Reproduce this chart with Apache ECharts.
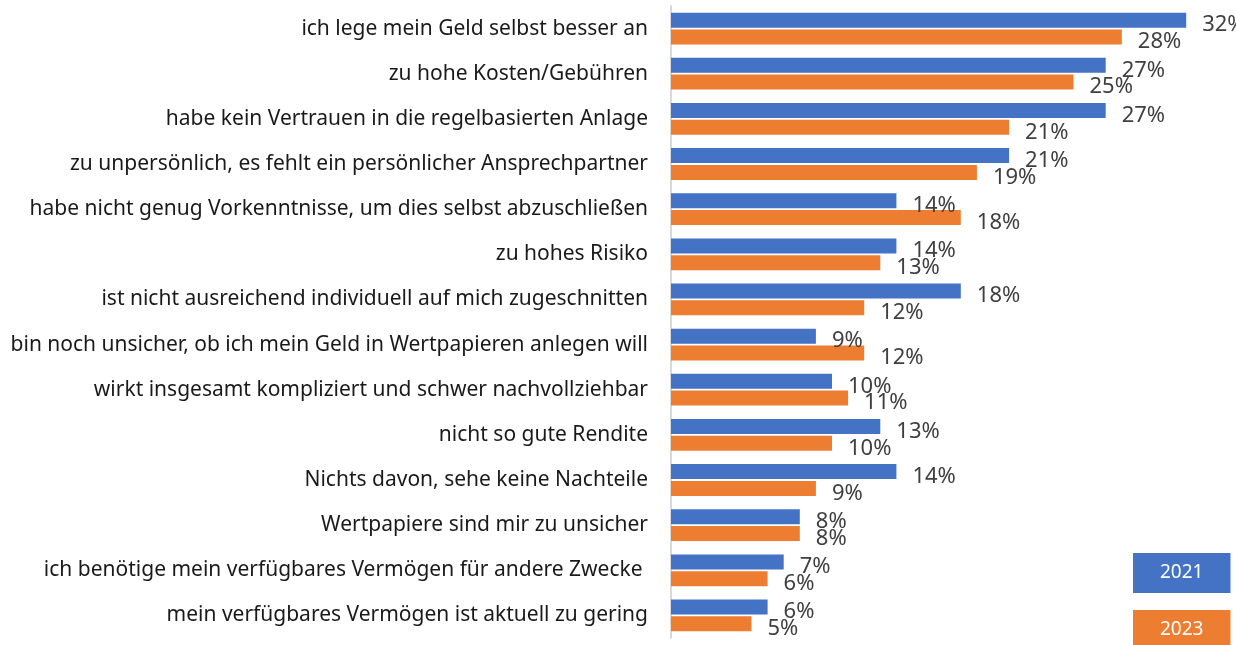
<!DOCTYPE html>
<html>
<meta charset="utf-8" />

<head>
  <script src="https://cdn.jsdelivr.net/npm/echarts@6.0.0/dist/echarts.min.js"></script>
  <style>
    html, body { margin: 0; padding: 0; background: #fff; }
    .chart {
      height: 645px;
      width: 1236px;
    }
  </style>
</head>

<body>
  <div class="chart" id="echarts-1"></div>
  <script>
    // categories, top to bottom
    const categories = [
      "ich lege mein Geld selbst besser an",
      "zu hohe Kosten/Gebühren",
      "habe kein Vertrauen in die regelbasierten Anlage",
      "zu unpersönlich, es fehlt ein persönlicher Ansprechpartner",
      "habe nicht genug Vorkenntnisse, um dies selbst abzuschließen",
      "zu hohes Risiko",
      "ist nicht ausreichend individuell auf mich zugeschnitten",
      "bin noch unsicher, ob ich mein Geld in Wertpapieren anlegen will",
      "wirkt insgesamt kompliziert und schwer nachvollziehbar",
      "nicht so gute Rendite",
      "Nichts davon, sehe keine Nachteile",
      "Wertpapiere sind mir zu unsicher",
      "ich benötige mein verfügbares Vermögen für andere Zwecke ",
      "mein verfügbares Vermögen ist aktuell zu gering"
    ];
    const values2021 = [32, 27, 27, 21, 14, 14, 18, 9, 10, 13, 14, 8, 7, 6];
    const values2023 = [28, 25, 21, 19, 18, 13, 12, 12, 11, 10, 9, 8, 6, 5];
    const seriesNames = ["2021", "2023"];
    const colors = ["#4472C4", "#ED7D31"];

    const myChart = echarts.init(document.getElementById("echarts-1"));

    const labelStyle = {
      show: true,
      position: "right",
      distance: 5,
      offset: [11, 5],
      formatter: (p) => p.value + "%",
      color: "#404040",
      fontSize: 22,
      fontFamily: "Noto Sans"
    };

    // one legend per series, drawn as a coloured box with white text
    const legendBox = (i, top) => ({
      orient: "vertical",
      left: 1128,
      top: top,
      itemWidth: 0,
      itemHeight: 0,
      itemGap: 0,
      padding: 0,
      selectedMode: false,
      data: [{
        name: seriesNames[i],
        icon: "none",
        textStyle: {
          backgroundColor: colors[i],
          color: "#fff",
          height: 40,
          lineHeight: 42,
          padding: [0, 27],
          fontSize: 19,
          fontFamily: "Noto Sans"
        }
      }]
    });

    const option = {
      animation: false,
      textStyle: { fontFamily: "Noto Sans" },
      grid: {
        left: 671,
        right: 1.5,
        top: 6,
        bottom: 7
      },
      legend: [legendBox(0, 553), legendBox(1, 610)],
      xAxis: {
        type: "value",
        min: 0,
        max: 35,
        show: false
      },
      yAxis: {
        type: "category",
        data: categories,
        inverse: true,
        axisTick: { show: false },
        axisLine: {
          show: true,
          lineStyle: { color: "#d9d9d9", width: 2 }
        },
        axisLabel: {
          margin: 23,
          color: "#1a1a1a",
          fontSize: 21,
          fontFamily: "Noto Sans"
        }
      },
      series: seriesNames.map((name, i) => ({
        name,
        type: "bar",
        data: i === 0 ? values2021 : values2023,
        barWidth: 15,
        barGap: "12%",
        itemStyle: { color: colors[i] },
        label: labelStyle
      }))
    };
    myChart.setOption(option);
  </script>
</body>
</html>
